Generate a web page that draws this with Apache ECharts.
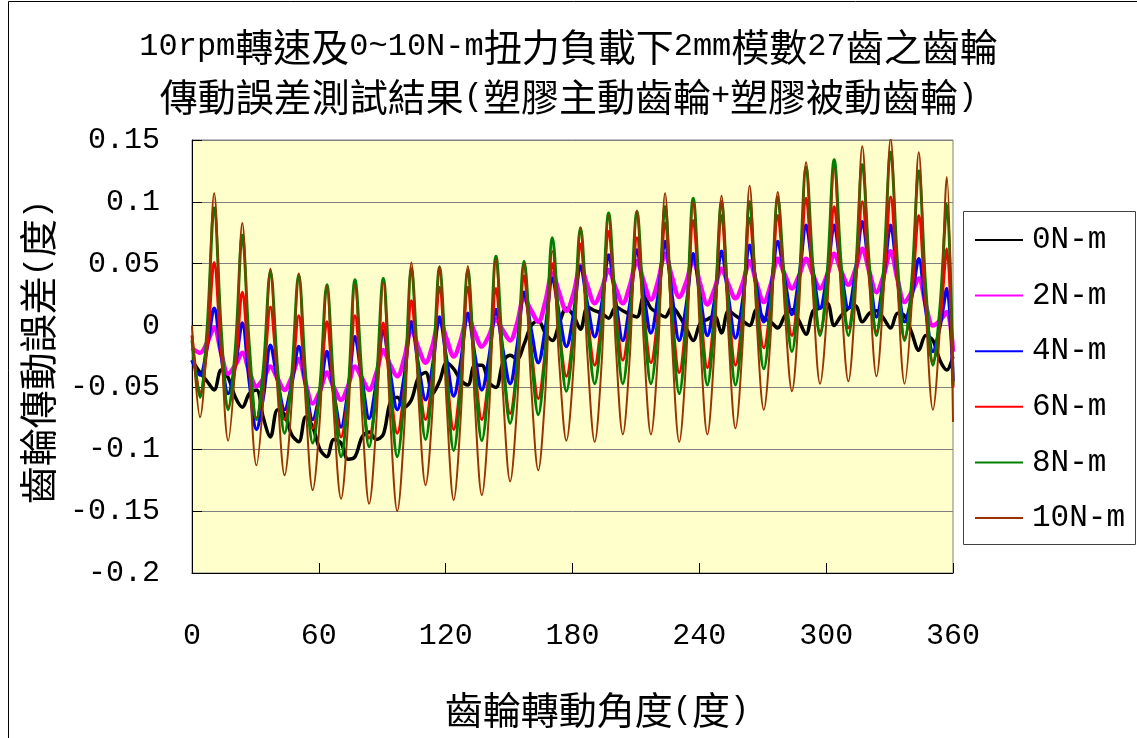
<!DOCTYPE html>
<html>
<head>
<meta charset="utf-8">
<script src="https://cdn.jsdelivr.net/npm/echarts@6/dist/echarts.min.js"></script>
<style>
  html, body { margin: 0; padding: 0; background: #ffffff; }
  #chart { width: 1137px; height: 738px; }
</style>
</head>
<body>
<div id="chart"></div>
<script>
// Rotation angle of the gear (degrees): start, then 4 samples per tooth pitch (27 teeth), end.
const ANGLES = [0,
  3.8, 7.1, 10.5, 13.8, 17.1, 20.5, 23.8, 27.1, 30.5, 33.8,
  37.1, 40.5, 43.8, 47.1, 50.5, 53.8, 57.1, 60.5, 63.8, 67.1,
  70.5, 73.8, 77.1, 80.5, 83.8, 87.1, 90.5, 93.8, 97.1, 100.5,
  103.8, 107.1, 110.5, 113.8, 117.1, 120.5, 123.8, 127.1, 130.5, 133.8,
  137.1, 140.5, 143.8, 147.1, 150.5, 153.8, 157.1, 160.5, 163.8, 167.1,
  170.5, 173.8, 177.1, 180.5, 183.8, 187.1, 190.5, 193.8, 197.1, 200.5,
  203.8, 207.1, 210.5, 213.8, 217.1, 220.5, 223.8, 227.1, 230.5, 233.8,
  237.1, 240.5, 243.8, 247.1, 250.5, 253.8, 257.1, 260.5, 263.8, 267.1,
  270.5, 273.8, 277.1, 280.5, 283.8, 287.1, 290.5, 293.8, 297.1, 300.5,
  303.8, 307.1, 310.5, 313.8, 317.1, 320.5, 323.8, 327.1, 330.5, 333.8,
  337.1, 340.5, 343.8, 347.1, 350.5, 353.8, 357.1,
  360];

// Transmission error (degrees) for each torque load, one row per tooth.
const TE_0NM = [-0.028,
  -0.038, -0.045, -0.052, -0.036,
  -0.042, -0.058, -0.066, -0.055,
  -0.052, -0.075, -0.090, -0.068,
  -0.072, -0.088, -0.094, -0.074,
  -0.082, -0.100, -0.106, -0.092,
  -0.095, -0.108, -0.106, -0.090,
  -0.086, -0.092, -0.088, -0.062,
  -0.058, -0.066, -0.060, -0.042,
  -0.038, -0.055, -0.045, -0.030,
  -0.035, -0.044, -0.048, -0.032,
  -0.032, -0.046, -0.050, -0.030,
  -0.024, -0.027, -0.015, 0.000,
  0.004, -0.006, -0.012, 0.002,
  0.014, 0.008, -0.003, 0.015,
  0.012, 0.010, 0.006, 0.015,
  0.012, 0.009, 0.007, 0.024,
  0.014, 0.010, 0.007, 0.015,
  0.008, -0.002, -0.012, 0.002,
  0.005, 0.008, -0.006, 0.012,
  0.008, 0.004, 0.000, 0.013,
  0.006, 0.003, -0.002, 0.008,
  0.013, 0.004, -0.007, 0.012,
  0.014, 0.018, 0.000, 0.008,
  0.014, 0.016, 0.003, 0.010,
  0.012, 0.006, -0.002, 0.010,
  0.008, -0.006, -0.020, -0.008,
  -0.012, -0.028, -0.036,
  -0.025];

const TE_2NM = [-0.018,
  -0.022, -0.014, -0.002, -0.022,
  -0.039, -0.032, -0.022, -0.037,
  -0.049, -0.043, -0.033, -0.043,
  -0.052, -0.042, -0.027, -0.047,
  -0.063, -0.053, -0.038, -0.050,
  -0.060, -0.049, -0.033, -0.043,
  -0.052, -0.039, -0.020, -0.032,
  -0.041, -0.026, -0.003, -0.018,
  -0.030, -0.016, 0.005, -0.011,
  -0.025, -0.012, 0.007, -0.006,
  -0.017, -0.008, 0.005, -0.004,
  -0.012, 0.002, 0.022, 0.012,
  0.003, 0.019, 0.042, 0.026,
  0.012, 0.026, 0.048, 0.032,
  0.018, 0.029, 0.045, 0.030,
  0.018, 0.032, 0.052, 0.035,
  0.021, 0.036, 0.058, 0.039,
  0.023, 0.035, 0.053, 0.033,
  0.017, 0.029, 0.046, 0.033,
  0.022, 0.034, 0.052, 0.034,
  0.019, 0.033, 0.054, 0.041,
  0.030, 0.040, 0.054, 0.041,
  0.030, 0.041, 0.058, 0.044,
  0.033, 0.045, 0.062, 0.043,
  0.027, 0.040, 0.060, 0.037,
  0.019, 0.027, 0.038, 0.017,
  0.000, 0.004, 0.011,
  -0.021];

const TE_4NM = [-0.028,
  -0.040, -0.018, 0.014, -0.024,
  -0.055, -0.032, 0.002, -0.045,
  -0.084, -0.057, -0.016, -0.045,
  -0.068, -0.048, -0.017, -0.049,
  -0.076, -0.054, -0.021, -0.055,
  -0.082, -0.053, -0.009, -0.045,
  -0.075, -0.047, -0.004, -0.039,
  -0.068, -0.040, 0.003, -0.032,
  -0.060, -0.033, 0.007, -0.028,
  -0.057, -0.030, 0.010, -0.024,
  -0.052, -0.026, 0.013, -0.020,
  -0.047, -0.017, 0.027, -0.004,
  -0.030, -0.003, 0.038, 0.008,
  -0.017, 0.009, 0.048, 0.017,
  -0.009, 0.017, 0.057, 0.019,
  -0.012, 0.017, 0.061, 0.024,
  -0.006, 0.024, 0.068, 0.024,
  -0.012, 0.016, 0.058, 0.022,
  -0.008, 0.019, 0.060, 0.022,
  -0.010, 0.020, 0.065, 0.031,
  0.003, 0.029, 0.068, 0.036,
  0.009, 0.038, 0.081, 0.044,
  0.014, 0.041, 0.081, 0.044,
  0.014, 0.042, 0.084, 0.042,
  0.007, 0.037, 0.081, 0.038,
  0.003, 0.023, 0.054, 0.013,
  -0.021, -0.001, 0.030,
  -0.045];

const TE_6NM = [-0.008,
  -0.055, -0.018, 0.051, -0.019,
  -0.066, -0.033, 0.027, -0.034,
  -0.075, -0.043, 0.015, -0.040,
  -0.076, -0.047, 0.008, -0.047,
  -0.083, -0.053, 0.003, -0.053,
  -0.090, -0.056, 0.008, -0.051,
  -0.091, -0.058, 0.002, -0.051,
  -0.087, -0.050, 0.020, -0.038,
  -0.076, -0.039, 0.031, -0.038,
  -0.084, -0.044, 0.031, -0.033,
  -0.076, -0.039, 0.030, -0.031,
  -0.071, -0.032, 0.040, -0.019,
  -0.059, -0.021, 0.050, -0.005,
  -0.041, -0.004, 0.066, 0.007,
  -0.032, 0.006, 0.076, 0.014,
  -0.028, 0.007, 0.071, 0.010,
  -0.030, 0.010, 0.083, 0.010,
  -0.038, 0.005, 0.085, 0.014,
  -0.034, 0.009, 0.089, 0.016,
  -0.032, 0.010, 0.087, 0.024,
  -0.018, 0.019, 0.089, 0.031,
  -0.008, 0.031, 0.103, 0.035,
  -0.005, 0.030, 0.096, 0.037,
  -0.002, 0.034, 0.100, 0.037,
  -0.005, 0.033, 0.104, 0.036,
  -0.010, 0.025, 0.089, 0.018,
  -0.029, 0.003, 0.062,
  -0.050];

const TE_8NM = [-0.012,
  -0.058, -0.004, 0.095, -0.003,
  -0.068, -0.019, 0.073, -0.016,
  -0.076, -0.034, 0.044, -0.035,
  -0.087, -0.042, 0.041, -0.041,
  -0.095, -0.050, 0.033, -0.050,
  -0.106, -0.056, 0.037, -0.044,
  -0.098, -0.050, 0.038, -0.048,
  -0.106, -0.053, 0.046, -0.037,
  -0.092, -0.043, 0.047, -0.042,
  -0.101, -0.050, 0.045, -0.038,
  -0.093, -0.041, 0.056, -0.025,
  -0.079, -0.033, 0.052, -0.022,
  -0.072, -0.022, 0.071, -0.003,
  -0.053, -0.007, 0.079, 0.003,
  -0.047, 0.001, 0.091, 0.008,
  -0.047, 0.002, 0.092, 0.009,
  -0.047, 0.003, 0.096, 0.005,
  -0.055, 0.000, 0.103, 0.012,
  -0.048, 0.004, 0.100, 0.011,
  -0.048, 0.004, 0.100, 0.019,
  -0.035, 0.014, 0.104, 0.029,
  -0.021, 0.031, 0.128, 0.046,
  -0.008, 0.042, 0.134, 0.049,
  -0.008, 0.040, 0.130, 0.047,
  -0.008, 0.044, 0.140, 0.049,
  -0.012, 0.036, 0.125, 0.031,
  -0.032, 0.014, 0.098,
  -0.048];

const TE_10NM = [0.000,
  -0.074, -0.011, 0.107, -0.013,
  -0.093, -0.031, 0.083, -0.035,
  -0.113, -0.057, 0.046, -0.054,
  -0.121, -0.064, 0.042, -0.063,
  -0.133, -0.075, 0.032, -0.071,
  -0.140, -0.079, 0.033, -0.073,
  -0.144, -0.081, 0.035, -0.076,
  -0.150, -0.080, 0.051, -0.057,
  -0.129, -0.067, 0.048, -0.065,
  -0.141, -0.075, 0.048, -0.063,
  -0.137, -0.070, 0.054, -0.054,
  -0.126, -0.064, 0.050, -0.050,
  -0.117, -0.055, 0.060, -0.032,
  -0.093, -0.033, 0.079, -0.025,
  -0.094, -0.030, 0.089, -0.017,
  -0.088, -0.025, 0.093, -0.016,
  -0.088, -0.020, 0.107, -0.014,
  -0.094, -0.026, 0.100, -0.013,
  -0.088, -0.020, 0.105, -0.008,
  -0.083, -0.014, 0.113, 0.004,
  -0.068, -0.006, 0.108, 0.011,
  -0.053, 0.012, 0.132, 0.025,
  -0.047, 0.014, 0.127, 0.024,
  -0.045, 0.022, 0.145, 0.033,
  -0.041, 0.026, 0.151, 0.032,
  -0.047, 0.018, 0.140, 0.015,
  -0.068, -0.002, 0.120,
  -0.078];

const SERIES_NAMES = ['0N-m', '2N-m', '4N-m', '6N-m', '8N-m', '10N-m'];
const SERIES_DATA = [TE_0NM, TE_2NM, TE_4NM, TE_6NM, TE_8NM, TE_10NM];
const SERIES_COLORS = ['#000000', '#FF00FF', '#0000FF', '#FF0000', '#008000', '#993300'];
const LINE_WIDTHS = [3.5, 4.5, 3.5, 3, 3, 2];

const X_TICK_STEP = 60;
const Y_MIN = -0.2, Y_MAX = 0.15, Y_STEP = 0.05;

const TITLE_LINE_1 = '{l|10rpm}轉速及{l|0~10N-m}扭力負載下{l|2mm}模數{l|27}齒之齒輪';
const TITLE_LINE_2 = '傳動誤差測試結果{l|(}塑膠主動齒輪{l|+}塑膠被動齒輪{l|)}';
const X_NAME = '齒輪轉動角度{l|(}度{l|)}';
const Y_NAME = '齒輪傳動誤差{l|(}度{l|)}';

const LATIN = "'Liberation Mono', monospace";
const CJK = "'Noto Sans CJK TC', sans-serif";
const richLatin = { l: { fontFamily: LATIN, fontSize: 32, fill: '#000', color: '#000' } };

const chart = echarts.init(document.getElementById('chart'), null, { renderer: 'canvas' });

const series = SERIES_NAMES.map((name, s) => ({
  name: name,
  type: 'line',
  data: ANGLES.map((a, i) => [a, SERIES_DATA[s][i]]),
  smooth: 0.35,
  showSymbol: false,
  symbol: 'none',
  color: SERIES_COLORS[s],
  lineStyle: { color: SERIES_COLORS[s], width: LINE_WIDTHS[s], join: 'round' },
  emphasis: { disabled: true },
  z: 2 + s
}));

chart.setOption({
  animation: false,
  backgroundColor: '#ffffff',
  title: [
    {
      text: TITLE_LINE_1, left: 'center', top: 25, padding: 0,
      textStyle: { fontFamily: CJK, fontSize: 38, fontWeight: 'normal', color: '#000', lineHeight: 44,
        rich: { l: { fontFamily: LATIN, fontSize: 32, color: '#000', lineHeight: 44 } } }
    },
    {
      text: TITLE_LINE_2, left: 'center', top: 75, padding: 0,
      textStyle: { fontFamily: CJK, fontSize: 38, fontWeight: 'normal', color: '#000', lineHeight: 44,
        rich: { l: { fontFamily: LATIN, fontSize: 32, color: '#000', lineHeight: 44 } } }
    }
  ],
  grid: {
    left: 192, top: 140, width: 761, height: 433,
    show: true, backgroundColor: '#FFFFCC', borderColor: '#808080', borderWidth: 1
  },
  xAxis: {
    type: 'value', min: 0, max: 360, interval: X_TICK_STEP,
    axisLine: { show: true, onZero: false, lineStyle: { color: '#000', width: 1 } },
    axisTick: { show: true, inside: true, length: 10, lineStyle: { color: '#000' } },
    axisLabel: { margin: 63, verticalAlign: 'middle', fontFamily: LATIN, fontSize: 30, color: '#000' },
    splitLine: { show: false }
  },
  yAxis: {
    type: 'value', min: Y_MIN, max: Y_MAX, interval: Y_STEP,
    axisLine: { show: true, onZero: false, lineStyle: { color: '#000', width: 1 } },
    axisTick: { show: true, inside: true, length: 10, lineStyle: { color: '#000' } },
    axisLabel: {
      margin: 32, fontFamily: LATIN, fontSize: 30, color: '#000',
      formatter: v => String(+v.toFixed(2))
    },
    splitLine: { show: true, lineStyle: { color: '#808080', width: 1 } }
  },
  legend: {
    data: SERIES_NAMES,
    orient: 'vertical',
    left: 975, top: 223,
    itemWidth: 48, itemHeight: 2, itemGap: 21.6,
    icon: 'rect',
    padding: 0,
    selectedMode: false,
    z: 10,
    textStyle: { fontFamily: LATIN, fontSize: 31, color: '#000', lineHeight: 34, padding: [0, 0, 0, 4] }
  },
  graphic: [
    {
      type: 'rect', z: 0, silent: true,
      shape: { x: 8.5, y: 1.5, width: 1140, height: 760 },
      style: { fill: 'none', stroke: '#000', lineWidth: 1 }
    },
    {
      type: 'rect', z: 1, silent: true,
      shape: { x: 963.5, y: 211.5, width: 172, height: 333 },
      style: { fill: '#ffffff', stroke: '#404040', lineWidth: 1 }
    },
    {
      type: 'text', silent: true, x: 597, y: 710,
      style: { text: X_NAME, fontFamily: CJK, fontSize: 38, fill: '#000',
        textAlign: 'center', textVerticalAlign: 'middle', rich: richLatin }
    },
    {
      type: 'text', silent: true, x: 38, y: 352, rotation: Math.PI / 2,
      style: { text: Y_NAME, fontFamily: CJK, fontSize: 38, fill: '#000',
        textAlign: 'center', textVerticalAlign: 'middle', rich: richLatin }
    }
  ],
  series: series
});
</script>
</body>
</html>
